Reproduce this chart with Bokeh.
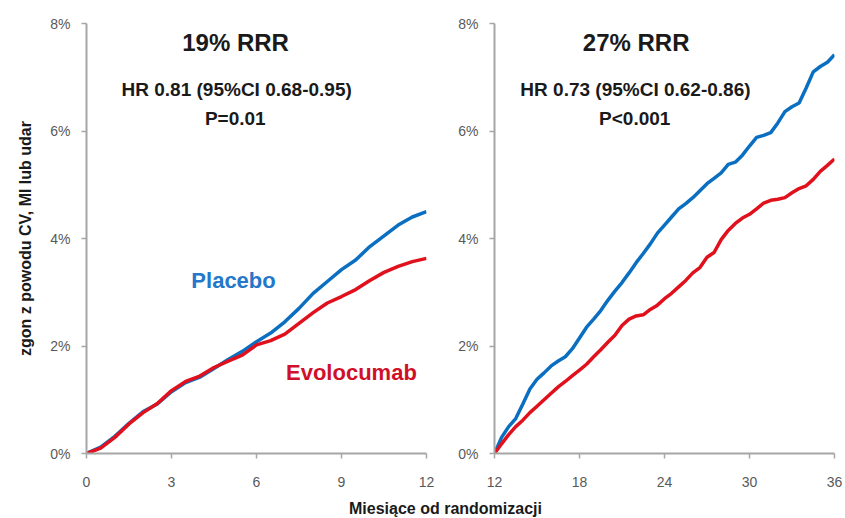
from bokeh.plotting import figure
from bokeh.models import Range1d, Label, PrintfTickFormatter, FixedTicker
from bokeh.layouts import row, column
from bokeh.embed import file_html
from bokeh.resources import INLINE

# ---------------- data ----------------
months_year1 = [0, 0.5, 1, 1.5, 2, 2.5, 3, 3.5, 4, 4.5, 5, 5.5, 6, 6.5, 7, 7.5, 8, 8.5,
                9, 9.5, 10, 10.5, 11, 11.5, 12]
placebo_year1 = [0, 0.12, 0.32, 0.56, 0.78, 0.92, 1.15, 1.32, 1.42, 1.58, 1.75, 1.9, 2.08,
                 2.24, 2.45, 2.7, 2.98, 3.2, 3.42, 3.6, 3.85, 4.05, 4.25, 4.4, 4.5]
evolocumab_year1 = [0, 0.1, 0.3, 0.55, 0.76, 0.93, 1.17, 1.34, 1.44, 1.6, 1.72, 1.83, 2.02,
                    2.1, 2.22, 2.42, 2.62, 2.8, 2.92, 3.05, 3.22, 3.37, 3.48, 3.57, 3.63]

months_after1 = [12, 12.5, 13, 13.5, 14, 14.5, 15, 15.5, 16, 16.5, 17, 17.5, 18, 18.5, 19,
                 19.5, 20, 20.5, 21, 21.5, 22, 22.5, 23, 23.5, 24, 24.5, 25, 25.5, 26, 26.5,
                 27, 27.5, 28, 28.5, 29, 29.5, 30, 30.5, 31, 31.5, 32, 32.5, 33, 33.5, 34,
                 34.5, 35, 35.5, 36]
placebo_after1 = [0, 0.3, 0.5, 0.65, 0.92, 1.2, 1.38, 1.5, 1.63, 1.72, 1.8, 1.95, 2.15, 2.35,
                  2.5, 2.66, 2.85, 3.02, 3.18, 3.36, 3.55, 3.72, 3.9, 4.1, 4.25, 4.4, 4.55,
                  4.65, 4.76, 4.89, 5.02, 5.12, 5.22, 5.38, 5.42, 5.55, 5.72, 5.88, 5.92,
                  5.97, 6.15, 6.36, 6.45, 6.52, 6.8, 7.1, 7.2, 7.28, 7.42]
evolocumab_after1 = [0, 0.18, 0.35, 0.5, 0.62, 0.76, 0.88, 1.0, 1.12, 1.24, 1.34, 1.45, 1.55,
                     1.66, 1.8, 1.93, 2.07, 2.2, 2.38, 2.5, 2.56, 2.58, 2.68, 2.76, 2.88, 2.98,
                     3.1, 3.22, 3.36, 3.46, 3.65, 3.74, 3.98, 4.15, 4.28, 4.38, 4.45, 4.55,
                     4.66, 4.71, 4.73, 4.76, 4.85, 4.93, 4.98, 5.1, 5.25, 5.36, 5.48]

y_ticks = [0, 2, 4, 6, 8]
x_ticks_left = [0, 3, 6, 9, 12]
x_ticks_right = [12, 18, 24, 30, 36]

y_title = "zgon z powodu CV, MI lub udar"
x_title = "Miesiące od randomizacji"
left_rrr = "19% RRR"
left_hr = "HR 0.81 (95%CI 0.68-0.95)"
left_p = "P=0.01"
right_rrr = "27% RRR"
right_hr = "HR 0.73 (95%CI 0.62-0.86)"
right_p = "P<0.001"

BLUE = "#0b6fc1"
RED = "#e0101c"
BLUE_TXT = "#2477c9"
RED_TXT = "#d0102a"
DARK = "#1a1a1a"
GREY = "#595959"
AXIS = "#a6a6a6"
FONT = "Liberation Sans"


def style(p, xticks):
    p.xgrid.visible = False
    p.ygrid.visible = False
    p.outline_line_color = None
    p.background_fill_color = "white"
    p.border_fill_color = "white"
    p.yaxis.ticker = FixedTicker(ticks=y_ticks)
    p.xaxis.ticker = FixedTicker(ticks=xticks)
    p.yaxis.formatter = PrintfTickFormatter(format="%d%%")
    for ax in (p.xaxis[0], p.yaxis[0]):
        ax.axis_line_color = AXIS
        ax.axis_line_width = 2
        ax.major_tick_line_color = AXIS
        ax.major_tick_line_width = 1.5
        ax.major_tick_out = 5
        ax.major_tick_in = 0
        ax.minor_tick_line_color = None
        ax.major_label_text_font = FONT
        ax.major_label_text_font_size = "14px"
        ax.major_label_text_color = GREY
    p.xaxis.major_label_standoff = 18
    p.yaxis.major_label_standoff = 11


# ---------------- left panel ----------------
p1 = figure(width=450, height=498, output_backend="svg", toolbar_location=None,
            x_range=Range1d(0, 12), y_range=Range1d(0, 8),
            min_border_left=86, min_border_right=24, min_border_top=23, min_border_bottom=45)
style(p1, x_ticks_left)
p1.yaxis.axis_label = y_title
p1.yaxis.axis_label_text_font = FONT
p1.yaxis.axis_label_text_font_style = "bold"
p1.yaxis.axis_label_text_font_size = "16px"
p1.yaxis.axis_label_text_color = DARK
p1.yaxis.axis_label_standoff = 13

p1.line(months_year1, placebo_year1, line_color=BLUE, line_width=3.5)
p1.line(months_year1, evolocumab_year1, line_color=RED, line_width=3.5)


def add_text(p, x, y, txt, size, color=DARK):
    p.add_layout(Label(x=x, y=y, text=txt, text_font=FONT, text_font_style="bold",
                       text_font_size=size, text_color=color, text_align="center",
                       text_baseline="middle"))


add_text(p1, 5.26, 7.65, left_rrr, "24px")
add_text(p1, 5.3, 6.77, left_hr, "19px")
add_text(p1, 5.25, 6.24, left_p, "19px")
add_text(p1, 5.19, 3.22, "Placebo", "22px", BLUE_TXT)
add_text(p1, 9.35, 1.51, "Evolocumab", "22px", RED_TXT)

# ---------------- right panel ----------------
p2 = figure(width=395, height=498, output_backend="svg", toolbar_location=None,
            x_range=Range1d(12, 36), y_range=Range1d(0, 8),
            min_border_left=44, min_border_right=11, min_border_top=23, min_border_bottom=45)
style(p2, x_ticks_right)

p2.line(months_after1, placebo_after1, line_color=BLUE, line_width=3.5)
p2.line(months_after1, evolocumab_after1, line_color=RED, line_width=3.5)

add_text(p2, 22.0, 7.65, right_rrr, "24px")
add_text(p2, 21.95, 6.77, right_hr, "19px")
add_text(p2, 21.9, 6.24, right_p, "19px")

# ---------------- shared x-axis title ----------------
p3 = figure(width=845, height=20, output_backend="svg", toolbar_location=None,
            x_range=Range1d(0, 1), y_range=Range1d(0, 1),
            min_border_left=0, min_border_right=0, min_border_top=0, min_border_bottom=0)
p3.xaxis.visible = False
p3.yaxis.visible = False
p3.xgrid.visible = False
p3.ygrid.visible = False
p3.outline_line_color = None
p3.add_layout(Label(x=445, y=10, x_units="screen", y_units="screen", text=x_title,
                    text_font=FONT, text_font_style="bold", text_font_size="16px",
                    text_color=DARK, text_align="center", text_baseline="middle"))

layout = column(row(p1, p2), p3)

open("out.html", "w").write(file_html(layout, INLINE))
